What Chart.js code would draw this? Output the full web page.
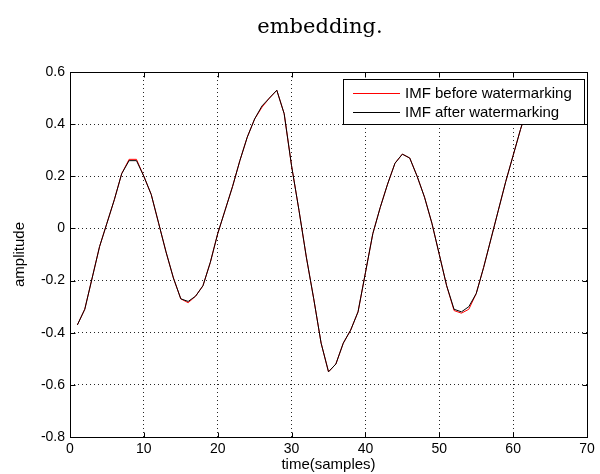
<!DOCTYPE html>
<html>
<head>
<meta charset="utf-8">
<script src="https://cdn.jsdelivr.net/npm/chart.js@4/dist/chart.umd.min.js"></script>
<style>
  html, body { margin: 0; padding: 0; background: #fff; }
  #wrap { width: 600px; height: 474px; }
</style>
</head>
<body>
<div id="wrap"><canvas id="imf"></canvas></div>
<script>
var samples = [1, 2, 3, 4, 5, 6, 7, 8, 9, 10, 11, 12, 13, 14, 15, 16, 17, 18, 19, 20,
               21, 22, 23, 24, 25, 26, 27, 28, 29, 30, 31, 32, 33, 34, 35, 36, 37, 38, 39, 40,
               41, 42, 43, 44, 45, 46, 47, 48, 49, 50, 51, 52, 53, 54, 55, 56, 57, 58, 59, 60,
               61, 62];
var imfBefore = [-0.37, -0.31, -0.19, -0.07, 0.02, 0.11, 0.21, 0.265, 0.265, 0.20,
                 0.13, 0.02, -0.09, -0.19, -0.27, -0.285, -0.26, -0.22, -0.13, -0.02,
                 0.07, 0.16, 0.26, 0.35, 0.42, 0.465, 0.50, 0.53, 0.44, 0.24,
                 0.07, -0.11, -0.27, -0.44, -0.55, -0.52, -0.44, -0.39, -0.32, -0.17,
                 -0.02, 0.08, 0.17, 0.25, 0.285, 0.27, 0.20, 0.12, 0.02, -0.10,
                 -0.22, -0.315, -0.325, -0.31, -0.25, -0.15, -0.04, 0.07, 0.18, 0.28,
                 0.38, 0.47];
var imfAfter = [-0.37, -0.31, -0.19, -0.07, 0.02, 0.11, 0.21, 0.26, 0.26, 0.20,
                0.13, 0.02, -0.09, -0.19, -0.27, -0.28, -0.26, -0.22, -0.13, -0.02,
                0.07, 0.16, 0.26, 0.35, 0.42, 0.47, 0.50, 0.53, 0.44, 0.24,
                0.07, -0.11, -0.27, -0.44, -0.55, -0.52, -0.44, -0.39, -0.32, -0.17,
                -0.02, 0.08, 0.17, 0.25, 0.285, 0.27, 0.20, 0.12, 0.02, -0.10,
                -0.22, -0.31, -0.32, -0.30, -0.25, -0.15, -0.04, 0.07, 0.18, 0.28,
                0.38, 0.47];
var xTicks = [0, 10, 20, 30, 40, 50, 60, 70];
var yTicks = [-0.8, -0.6, -0.4, -0.2, 0, 0.2, 0.4, 0.6];
var seriesNames = ["IMF before watermarking", "IMF after watermarking"];
var seriesColors = ["#ff0000", "#000000"];
var caption = "embedding.";

function pairs(xs, ys) {
    return xs.map(function (x, i) { return { x: x, y: ys[i] }; });
}

// matlab look: box, inward ticks, opaque legend and the caption above
var matlabFrame = {
    id: 'matlabFrame',
    afterDraw: function (chart) {
        var ctx = chart.ctx, a = chart.chartArea;
        var sx = chart.scales.x, sy = chart.scales.y;
        var l = Math.round(a.left) + 0.5, r = Math.round(a.right) + 0.5;
        var t = Math.round(a.top) + 0.5, b = Math.round(a.bottom) + 0.5;
        ctx.save();
        ctx.strokeStyle = '#000';
        ctx.lineWidth = 1;
        ctx.setLineDash([]);
        ctx.beginPath();
        xTicks.forEach(function (v) {
            var px = Math.round(sx.getPixelForValue(v)) + 0.5;
            ctx.moveTo(px, b); ctx.lineTo(px, b - 5);
            ctx.moveTo(px, t); ctx.lineTo(px, t + 5);
        });
        yTicks.forEach(function (v) {
            var py = Math.round(sy.getPixelForValue(v)) + 0.5;
            ctx.moveTo(l, py); ctx.lineTo(l + 5, py);
            ctx.moveTo(r, py); ctx.lineTo(r - 5, py);
        });
        ctx.stroke();
        ctx.strokeRect(l, t, r - l, b - t);

        // legend box
        var lx = 343.5, ly = 79.5, lw = 241, lh = 45;
        ctx.fillStyle = '#fff';
        ctx.fillRect(lx, ly, lw, lh);
        ctx.strokeRect(lx, ly, lw, lh);
        ctx.font = '15px "Liberation Sans", Arial, sans-serif';
        ctx.textBaseline = 'middle';
        ctx.textAlign = 'left';
        seriesNames.forEach(function (name, i) {
            var y = Math.round(93 + i * 19) + 0.5;
            ctx.strokeStyle = seriesColors[i];
            ctx.beginPath();
            ctx.moveTo(353, y); ctx.lineTo(400, y);
            ctx.stroke();
            ctx.fillStyle = '#000';
            ctx.fillText(name, 405, y);
        });

        ctx.font = '21px "DejaVu Serif", serif';
        ctx.textAlign = 'center';
        ctx.fillStyle = '#000';
        ctx.fillText(caption, 320, 28);
        ctx.restore();
    }
};

var ctx = document.getElementById('imf');
var imfChart = new Chart(ctx, {
    type: 'line',
    data: {
        datasets: [{
            label: seriesNames[0],
            data: pairs(samples, imfBefore),
            borderColor: seriesColors[0],
            borderWidth: 1,
            pointRadius: 0,
            tension: 0,
            fill: false,
            order: 1
        }, {
            label: seriesNames[1],
            data: pairs(samples, imfAfter),
            borderColor: seriesColors[1],
            borderWidth: 1,
            pointRadius: 0,
            tension: 0,
            fill: false,
            order: 0
        }]
    },
    options: {
        responsive: true,
        maintainAspectRatio: false,
        animation: false,
        layout: { padding: { top: 72, right: 13, left: 0, bottom: 0 } },
        plugins: {
            legend: { display: false },
            title: { display: false },
            tooltip: { enabled: false }
        },
        scales: {
            x: {
                type: 'linear',
                min: 0,
                max: 70,
                afterFit: function (s) { s.height = 37; },
                afterBuildTicks: function (s) { s.ticks = xTicks.map(function (v) { return { value: v }; }); },
                ticks: {
                    color: '#000',
                    padding: 4,
                    maxRotation: 0,
                    autoSkip: false,
                    font: { family: '"Liberation Sans", Arial, sans-serif', size: 14 }
                },
                grid: { color: 'rgba(0,0,0,0.85)', drawTicks: false },
                border: { display: false, dash: [1, 3] },
                title: {
                    display: true,
                    text: 'time(samples)',
                    color: '#000',
                    padding: { top: 0, bottom: 0 },
                    font: { family: '"Liberation Sans", Arial, sans-serif', size: 15 }
                }
            },
            y: {
                min: -0.8,
                max: 0.6,
                afterFit: function (s) { s.width = 70; },
                afterBuildTicks: function (s) { s.ticks = yTicks.map(function (v) { return { value: v }; }); },
                ticks: {
                    color: '#000',
                    padding: 5,
                    autoSkip: false,
                    font: { family: '"Liberation Sans", Arial, sans-serif', size: 14 },
                    callback: function (v) { return String(Math.round(v * 10) / 10); }
                },
                grid: { color: 'rgba(0,0,0,0.85)', drawTicks: false },
                border: { display: false, dash: [1, 3] },
                title: {
                    display: true,
                    text: 'amplitude',
                    color: '#000',
                    padding: { top: 11, bottom: 0 },
                    font: { family: '"Liberation Sans", Arial, sans-serif', size: 15 }
                }
            }
        }
    },
    plugins: [matlabFrame]
});
</script>
</body>
</html>
